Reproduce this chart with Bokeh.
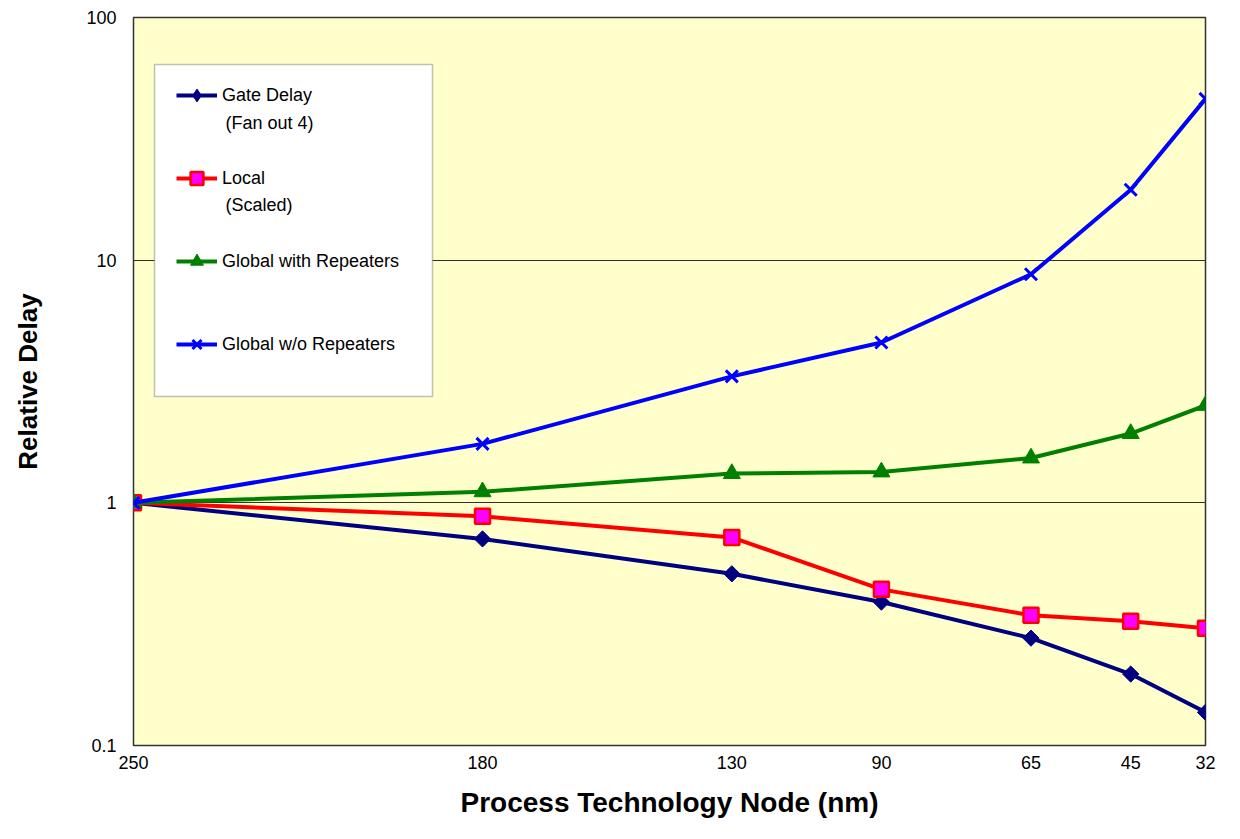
from bokeh.plotting import figure
from bokeh.models import Range1d, FixedTicker, Legend, LegendItem, BoxAnnotation, Label
from bokeh.embed import file_html
from bokeh.resources import INLINE
import math

# ---- data ----
nodes = ["250", "180", "130", "90", "65", "45", "32"]
node_pos = [0.0, 7.0, 12.0, 15.0, 18.0, 20.0, 21.5]
gate_delay = [1.0, 0.71, 0.51, 0.39, 0.277, 0.197, 0.137]
local_scaled = [1.0, 0.88, 0.72, 0.44, 0.344, 0.325, 0.304]
global_rep = [1.0, 1.11, 1.32, 1.34, 1.53, 1.93, 2.52]
global_norep = [1.0, 1.75, 3.32, 4.58, 8.75, 19.5, 46.2]
y_ticks = [0.1, 1.0, 10.0, 100.0]
y_tick_labels = ["0.1", "1", "10", "100"]

FONT = "Liberation Sans"

p = figure(width=1224, height=823, y_axis_type="log",
           x_range=Range1d(0, 21.5), y_range=Range1d(0.1, 100),
           output_backend="svg", toolbar_location=None,
           min_border_left=133, min_border_right=19,
           min_border_top=17, min_border_bottom=78)
p.background_fill_color = "#FFFFCC"
p.border_fill_color = "white"
p.outline_line_color = "#333333"
p.outline_line_width = 1.5

# axes
p.xaxis.ticker = FixedTicker(ticks=node_pos)
p.xaxis.major_label_overrides = {float(k): v for k, v in zip(node_pos, nodes)}
p.yaxis.ticker = FixedTicker(ticks=y_ticks, minor_ticks=[])
p.yaxis.major_label_overrides = {float(k): v for k, v in zip(y_ticks, y_tick_labels)}
for ax in (p.xaxis, p.yaxis):
    ax.major_tick_line_color = None
    ax.minor_tick_line_color = None
    ax.major_tick_out = 0
    ax.major_tick_in = 0
    ax.minor_tick_out = 0
    ax.minor_tick_in = 0
    ax.axis_line_color = None
    ax.major_label_text_font = FONT
    ax.major_label_text_font_size = "18px"
    ax.major_label_text_color = "black"
    ax.axis_label_text_font = FONT
    ax.axis_label_text_font_style = "bold"
    ax.axis_label_text_color = "black"
p.xaxis.major_label_standoff = 10
p.xaxis.axis_label = "Process Technology Node (nm)"
p.xaxis.axis_label_text_font_size = "28px"
p.xaxis.axis_label_standoff = 15
p.yaxis.major_label_standoff = 17
p.yaxis.axis_label = "Relative Delay"
p.yaxis.axis_label_text_font_size = "26px"
p.yaxis.axis_label_standoff = 40

p.xgrid.visible = False
p.ygrid.ticker = FixedTicker(ticks=[1.0, 10.0], minor_ticks=[])
p.ygrid.grid_line_color = "#303030"
p.ygrid.grid_line_width = 1
p.ygrid.minor_grid_line_color = None

LW = 4
l1 = p.line(node_pos, gate_delay, line_color="#000080", line_width=LW)
# diamond swatch (hidden under the rotated squares) used for the legend entry
d1 = p.scatter(node_pos, gate_delay, marker="diamond", size=12,
               fill_color="#000080", line_color="#000080", line_width=1)
m1 = p.scatter(node_pos, gate_delay, marker="square", angle=math.pi / 4, size=11.5,
               fill_color="#000080", line_color="#000080", line_width=1)
l2 = p.line(node_pos, local_scaled, line_color="#FF0000", line_width=LW)
m2 = p.scatter(node_pos, local_scaled, marker="square", size=15,
               fill_color="#FF00FF", line_color="#FF0000", line_width=2.5)
l3 = p.line(node_pos, global_rep, line_color="#008000", line_width=LW)
m3 = p.scatter(node_pos, global_rep, marker="triangle", size=17,
               fill_color="#008000", line_color="#008000", line_width=1)
l4 = p.line(node_pos, global_norep, line_color="#0000FF", line_width=LW)
m4 = p.scatter(node_pos, global_norep, marker="x", size=17,
               line_color="#0000FF", line_width=3)

# legend box
box = BoxAnnotation(left=21, right=299, top=681, bottom=349,
                    left_units="screen", right_units="screen",
                    top_units="screen", bottom_units="screen",
                    fill_color="white", fill_alpha=1.0,
                    line_color="#333333", line_width=1.5)
p.add_layout(box)

legend = Legend(items=[
    LegendItem(label="Gate Delay", renderers=[l1, d1]),
    LegendItem(label="Local", renderers=[l2, m2]),
    LegendItem(label="Global with Repeaters", renderers=[l3, m3]),
    LegendItem(label="Global w/o Repeaters", renderers=[l4, m4]),
], location=(43, 385), border_line_color=None, background_fill_alpha=0,
    padding=0, margin=0, spacing=51, glyph_width=41, glyph_height=32,
    label_height=32, label_standoff=5, label_text_font=FONT,
    label_text_font_size="18px", label_text_color="black")
p.add_layout(legend)

for txt, yy in (("(Fan out 4)", 623), ("(Scaled)", 541)):
    p.add_layout(Label(x=92, y=yy, x_units="screen", y_units="screen", text=txt,
                       text_baseline="middle", text_font=FONT,
                       text_font_size="18px", text_color="black"))

open("out.html", "w").write(file_html(p, INLINE))
